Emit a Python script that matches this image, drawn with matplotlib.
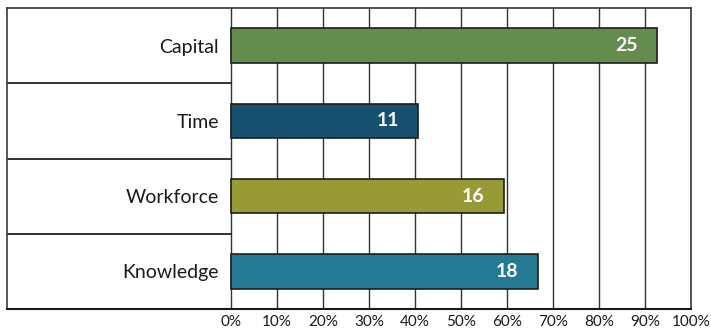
import matplotlib
matplotlib.use("Agg")
import matplotlib.pyplot as plt

# data (counts out of 27 respondents)
categories = ["Capital", "Time", "Workforce", "Knowledge"]
counts = [25, 11, 16, 18]
total = 27
colors = ["#648c4e", "#15506f", "#989a35", "#237a92"]
tick_values = [0, 10, 20, 30, 40, 50, 60, 70, 80, 90, 100]
tick_labels = [f"{v}%" for v in tick_values]

plt.rcParams['font.family'] = ['Lato', 'DejaVu Sans']

W, H = 711, 332
fig = plt.figure(figsize=(W / 100, H / 100), dpi=100)
ax = fig.add_axes([7 / W, (H - 309) / H, (691 - 7) / W, (309 - 8) / H])

# left label column occupies part of the axes, to the left of 0%
left_lim = -(231 - 7) / (691 - 231) * 100
ax.set_xlim(left_lim, 100)
n = len(categories)
ax.set_ylim(-0.5, n - 0.5)

pct = [c / total * 100 for c in counts]
ypos = [n - 1 - i for i in range(n)]

# vertical gridlines in the plot part
for v in tick_values:
    ax.axvline(v, color="#333333", lw=1.0, zorder=1)

# row separators in the label part
for k in range(n - 1):
    ax.plot([left_lim, 0], [k + 0.5, k + 0.5], color="#222222", lw=1.3, zorder=1)

ax.barh(ypos, pct, height=0.46, color=colors, edgecolor="#1e1e1e", lw=1.2, zorder=3)

for y, name, p, c in zip(ypos, categories, pct, counts):
    ax.annotate(name, (0, y), xytext=(-8.5, -1), textcoords="offset points",
                ha="right", va="center", fontsize=14, color="#1a1a1a")
    ax.annotate(str(c), (p, y), xytext=(-14, 0), textcoords="offset points",
                ha="right", va="center", fontsize=14, fontweight="bold", color="white", zorder=4)

ax.set_xticks(tick_values)
ax.set_xticklabels(tick_labels, fontsize=11, color="#1a1a1a")
ax.tick_params(axis="x", length=0, pad=4)
ax.set_yticks([])
for s in ax.spines.values():
    s.set_color("#3a3a3a")
    s.set_linewidth(1.2)
ax.spines["bottom"].set_color("#1a1a1a")
ax.spines["bottom"].set_linewidth(1.5)

fig.savefig("out.png", dpi=100)
